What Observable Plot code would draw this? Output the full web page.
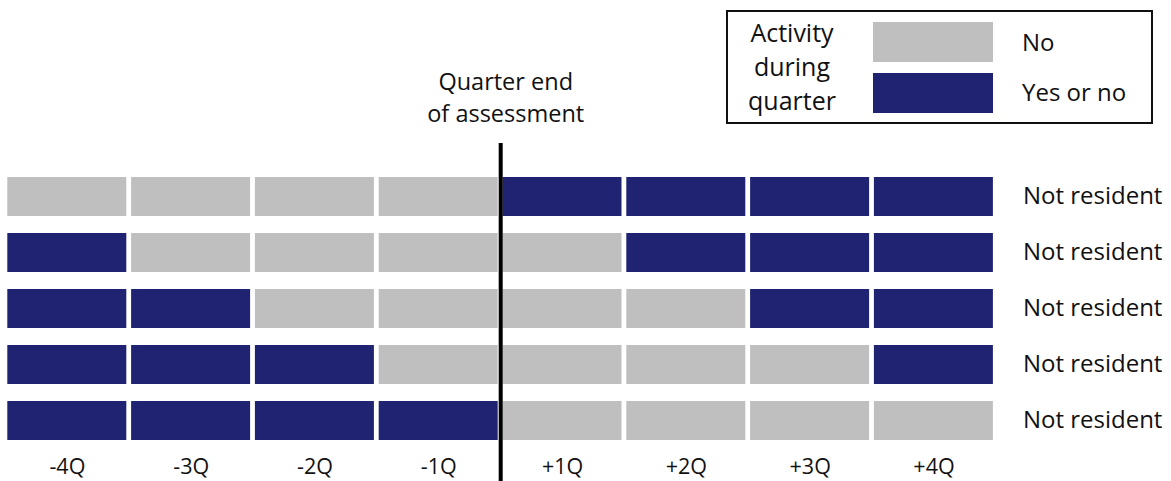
<!DOCTYPE html>
<html>
<head>
<meta charset="utf-8">
<script src="https://cdn.jsdelivr.net/npm/d3@7"></script>
<script src="https://cdn.jsdelivr.net/npm/@observablehq/plot@0.6"></script>
<style>
  html, body { margin: 0; padding: 0; background: #fff; }
  #wrap { position: relative; width: 1171px; height: 481px; font-family: "Open Sans", sans-serif; color: #111; }
  #wrap svg { position: absolute; left: 0; top: 0; overflow: visible; }
  .lg { position: absolute; }
  #legendBox { left: 726px; top: 10px; width: 427px; height: 114px; border: 2px solid #111; box-sizing: border-box; }
  #legendTitle { left: 732px; top: 15px; width: 120px; text-align: center; font-size: 25px; line-height: 34px; }
  .sw { left: 873px; width: 120px; height: 40px; }
  .lt { left: 1022px; font-size: 24px; line-height: 30px; }
</style>
</head>
<body>
<div id="wrap"></div>
<script>
const quarters = ["-4Q", "-3Q", "-2Q", "-1Q", "+1Q", "+2Q", "+3Q", "+4Q"];
const rowLabels = ["Not resident", "Not resident", "Not resident", "Not resident", "Not resident"];
const categories = ["No", "Yes or no"];
const colors = ["#bfbfbf", "#1f2372"];
const row1 = ["No", "No", "No", "No", "Yes or no", "Yes or no", "Yes or no", "Yes or no"];
const row2 = ["Yes or no", "No", "No", "No", "No", "Yes or no", "Yes or no", "Yes or no"];
const row3 = ["Yes or no", "Yes or no", "No", "No", "No", "No", "Yes or no", "Yes or no"];
const row4 = ["Yes or no", "Yes or no", "Yes or no", "No", "No", "No", "No", "Yes or no"];
const row5 = ["Yes or no", "Yes or no", "Yes or no", "Yes or no", "No", "No", "No", "No"];
const rows = [row1, row2, row3, row4, row5];
const assessmentIndex = 4; // boundary between -1Q and +1Q
const legendTitle = ["Activity", "during", "quarter"];
const markerLabel = "Quarter end\nof assessment";

const cells = rows.flatMap((r, ri) => r.map((v, ci) => ({row: ri, col: ci, v})));

const chart = Plot.plot({
  width: 1171,
  height: 481,
  marginTop: 143,
  marginBottom: 0,
  marginLeft: 0,
  marginRight: 0,
  style: {fontFamily: "'Open Sans', sans-serif", color: "#111", background: "transparent"},
  x: {type: "linear", domain: [0, quarters.length], range: [5, 995.4], axis: null},
  y: {type: "band", domain: d3.range(rows.length), range: [166.6, 450.4], paddingInner: 0.295, paddingOuter: 0.1475, axis: null},
  color: {domain: categories, range: colors},
  marks: [
    Plot.barX(cells, {x1: d => d.col, x2: d => d.col + 1, y: "row", fill: "v", insetLeft: 2.3, insetRight: 2.5}),
    Plot.ruleX([assessmentIndex], {stroke: "#000", strokeWidth: 4}),
    Plot.text(rowLabels, {x: quarters.length, y: (d, i) => i, dx: 27, dy: -1, textAnchor: "start", fontSize: 24, fill: "#111"}),
    Plot.text(quarters, {x: (d, i) => i + 0.5, frameAnchor: "bottom", lineAnchor: "middle", dy: -14, fontSize: 21.5, fill: "#111"}),
    Plot.text([markerLabel], {x: assessmentIndex, dx: 5, frameAnchor: "top", lineAnchor: "bottom", dy: -22, fontSize: 23.5, lineHeight: 1.36, fill: "#111"})
  ]
});

const wrap = document.getElementById("wrap");
wrap.appendChild(chart);

function addDiv(cls, id, css, html) {
  const d = document.createElement("div");
  d.className = cls;
  if (id) d.id = id;
  Object.assign(d.style, css);
  if (html != null) d.innerHTML = html;
  wrap.appendChild(d);
  return d;
}
addDiv("lg", "legendBox", {});
addDiv("lg", "legendTitle", {}, legendTitle.join("<br>"));
addDiv("lg sw", null, {top: "22px", background: colors[0]});
addDiv("lg sw", null, {top: "73px", background: colors[1]});
addDiv("lg lt", null, {top: "27px"}, categories[0]);
addDiv("lg lt", null, {top: "77px"}, categories[1]);
</script>
</body>
</html>
